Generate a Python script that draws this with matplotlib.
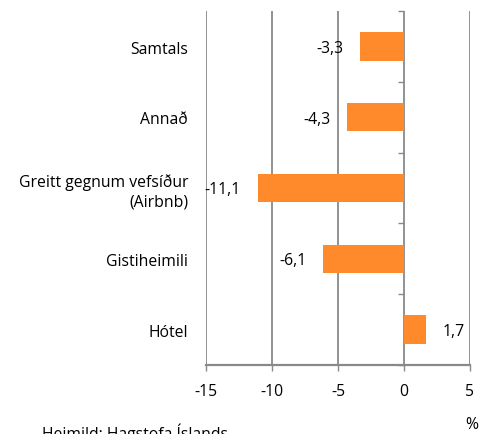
import matplotlib
matplotlib.use('Agg')
import matplotlib.pyplot as plt
from matplotlib.ticker import FixedLocator, NullFormatter

# gögn
flokkar = ['Hótel', 'Gistiheimili', 'Greitt gegnum vefsíður\n(Airbnb)', 'Annað', 'Samtals']
breyting = [1.7, -6.1, -11.1, -4.3, -3.3]
x_ticks = [-15, -10, -5, 0, 5]

plt.rcParams['font.family'] = ['Open Sans', 'DejaVu Sans']
grey = '#898989'
orange = '#FF8A2B'
fs = 11.3

fig = plt.figure(figsize=(4.86, 4.35), dpi=100)
ax = fig.add_axes([0.424, 0.1586, 0.543, 0.8134])

ypos = list(range(len(flokkar)))
ax.barh(ypos, breyting, height=0.4, color=orange, zorder=3)

ax.set_xlim(-15, 5)
ax.set_ylim(-0.5, len(flokkar) - 0.5)
ax.set_xticks(x_ticks)
ax.set_xticklabels([str(v) for v in x_ticks])
ax.set_yticks(ypos)
ax.set_yticklabels(flokkar, ha='right', linespacing=1.25)
ax.tick_params(axis='y', length=0, pad=13, labelsize=fs)
ax.tick_params(axis='x', length=4, width=1, color=grey, pad=9, labelsize=fs)

ax.grid(axis='x', color=grey, linewidth=1.3, zorder=0)
ax.set_axisbelow(True)
for s in ['top', 'right', 'left']:
    ax.spines[s].set_visible(False)
ax.spines['bottom'].set_color(grey)
ax.spines['bottom'].set_linewidth(1.6)

# litlu strikin á 0-ásnum
sec = ax.secondary_yaxis(0.75)
sec.spines['left'].set_visible(False)
sec.spines['right'].set_visible(False)
sec.yaxis.set_major_locator(FixedLocator([i - 0.5 for i in range(len(flokkar) + 1)]))
sec.yaxis.set_major_formatter(NullFormatter())
sec.tick_params(axis='y', which='both', left=True, right=False, length=4, width=1, color=grey)

# gildi
for y, v in zip(ypos, breyting):
    txt = '{0:.1f}'.format(v).replace('.', ',')
    if v < 0:
        ax.annotate(txt, (v, y), xytext=(-12, -1), textcoords='offset points',
                    ha='right', va='center', fontsize=fs)
    else:
        ax.annotate(txt, (v, y), xytext=(12, -1), textcoords='offset points',
                    ha='left', va='center', fontsize=fs)

fig.text(0.971, 0.024, '%', ha='center', va='center', fontsize=fs)
fig.text(0.086, 0.027, 'Heimild: Hagstofa Íslands', ha='left', va='top', fontsize=fs)

fig.savefig('out.png', dpi=100)
